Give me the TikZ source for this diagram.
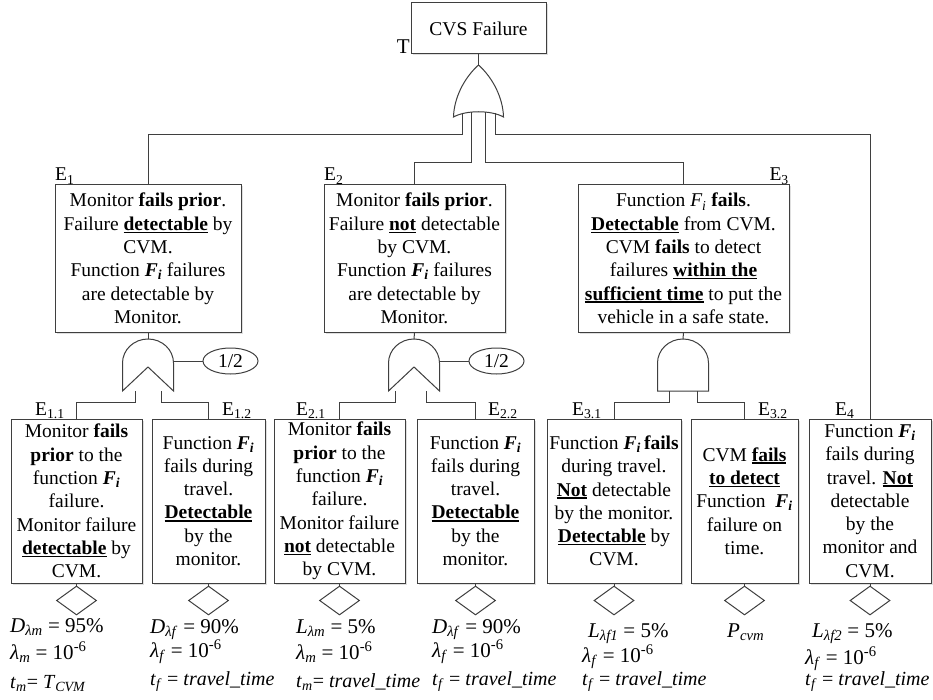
\documentclass[tikz,border=0pt]{standalone}
\usepackage{fontspec}
\setmainfont{Liberation Serif}
\usetikzlibrary{shapes.geometric,shadows}

% bold underlined emphasis
\newsavebox\ulbox
\newcommand\ub[1]{\sbox\ulbox{\textbf{#1}}%
  \rlap{\rule[-2.6pt]{\wd\ulbox}{1.3pt}}\usebox\ulbox}
% function symbols
\newcommand\Fbi{\textbf{\textit{F\textsubscript{i}}}}
\newcommand\Fit{\textit{F\textsubscript{i}}}
% italic variable with italic subscript
\newcommand\vsub[2]{\textit{#1}\textsubscript{\textit{#2}}}

\definecolor{linec}{HTML}{3F3F3F}

\begin{document}
\begin{tikzpicture}[x=1pt,y=-1pt,
  every node/.style={inner sep=0pt},
  txt/.style={font=\fontsize{19.5}{23.3}\selectfont},
  box/.style={txt,draw=linec,line width=1pt,fill=white,align=center,
    drop shadow={shadow xshift=1.5pt,shadow yshift=-1.5pt,opacity=0.25}},
  lowbox/.style={box,minimum height=164pt},
  ebox/.style={box,minimum height=147pt},
  conn/.style={draw=linec,line width=1pt},
  gate/.style={draw=linec,line width=1pt,fill=white},
  basic/.style={diamond,draw=linec,line width=1pt,fill=white,
    minimum width=40pt,minimum height=29pt},
  vote/.style={ellipse,draw=linec,line width=1pt,fill=white,txt,
    minimum width=55pt,minimum height=26pt},
  lab/.style={txt,anchor=base west},
  labr/.style={txt,anchor=base east},
  par/.style={font=\fontsize{21}{24}\selectfont,anchor=base west},
  parsm/.style={font=\fontsize{20}{24}\selectfont,anchor=base west}
]
\useasboundingbox (0,0) rectangle (933,700);

% ---------- top event ----------
\node[box,minimum width=135pt,minimum height=51pt] (T) at (478.5,28.5) {CVS Failure};
\node[labr,font=\fontsize{21}{24}\selectfont] (Tl) at (410,54) {T};

% ---------- OR gate under the top event ----------
\coordinate (orapex) at (478.5,65);
\draw[gate] (orapex) .. controls (464,78) and (454,98) .. (453.5,117)
  .. controls (466,110) and (491,110) .. (503.5,117)
  .. controls (503,98) and (493,78) .. (orapex);
\draw[conn] (T.south) -- (orapex);
\coordinate (o1) at (462,113);
\coordinate (o2) at (471,112);
\coordinate (o3) at (485.5,112);
\coordinate (o4) at (495,113);

% ---------- intermediate events ----------
\node[ebox,minimum width=186pt] (E1) at (148,258.5) {%
  Monitor \textbf{fails prior}.\\
  Failure \ub{detectable} by\\
  CVM.\\
  Function \Fbi{} failures\\
  are detectable by\\
  Monitor.};
\node[ebox,minimum width=181pt] (E2) at (414.5,258.5) {%
  Monitor \textbf{fails prior}.\\
  Failure \ub{not} detectable\\
  by CVM.\\
  Function \Fbi{} failures\\
  are detectable by\\
  Monitor.};
\node[ebox,minimum width=211pt] (E3) at (683.5,258.5) {%
  Function \Fit{} \textbf{fails}.\\
  \ub{Detectable} from CVM.\\
  CVM \textbf{fails} to detect\\
  failures \ub{within the}\\
  \ub{sufficient time} to put the\\
  vehicle in a safe state.};

\node[lab] (E1l) at (55,181) {E\textsubscript{1}};
\node[lab] (E2l) at (324,181) {E\textsubscript{2}};
\node[labr] (E3l) at (789,181) {E\textsubscript{3}};

\draw[conn] (o1) -- ++(0,22) -| (E1.north);
\draw[conn] (o2) -- ++(0,51) -| (E2.north);
\draw[conn] (o3) -- ++(0,51) -| (E3.north);

% ---------- basic events ----------
\node[lowbox,minimum width=131pt] (E11) at (76.5,501) {%
  Monitor \textbf{fails}\\
  \textbf{prior} to the\\
  function \Fbi\\
  failure.\\
  Monitor failure\\
  \ub{detectable} by\\
  CVM.};
\node[lowbox,minimum width=113pt] (E12) at (208.5,501) {%
  Function \Fbi\\
  fails during\\
  travel.\\
  \ub{Detectable}\\
  by the\\
  monitor.};
\node[lowbox,minimum width=131pt] (E21) at (339.5,501) {%
  Monitor \textbf{fails}\\
  \textbf{prior} to the\\
  function \Fbi\\
  failure.\\
  Monitor failure\\
  \ub{not} detectable\\
  by CVM.};
\node[lowbox,minimum width=117pt] (E22) at (475.5,501) {%
  Function \Fbi\\
  fails during\\
  travel.\\
  \ub{Detectable}\\
  by the\\
  monitor.};
\node[lowbox,minimum width=134pt] (E31) at (614,501) {%
  Function \Fbi\,\textbf{fails}\\
  during travel.\\
  \ub{Not} detectable\\
  by the monitor.\\
  \ub{Detectable} by\\
  CVM.};
\node[lowbox,minimum width=107pt] (E32) at (744.5,501) {%
  CVM \ub{fails}\\
  \ub{to detect}\\
  Function~~\Fbi\\
  failure on\\
  time.};
\node[lowbox,minimum width=122pt] (E4) at (870,501) {%
  Function \Fbi\\
  fails during\\
  travel. \ub{Not}\\
  detectable\\
  by the\\
  monitor and\\
  CVM.};

\draw[conn] (o4) -- ++(0,22) -| (E4.north);

\node[lab] (E11l) at (35,415) {E\textsubscript{1.1}};
\node[lab] (E12l) at (222,415) {E\textsubscript{1.2}};
\node[lab] (E21l) at (296,415) {E\textsubscript{2.1}};
\node[lab] (E22l) at (488,415) {E\textsubscript{2.2}};
\node[lab] (E31l) at (572,415) {E\textsubscript{3.1}};
\node[lab] (E32l) at (758,415) {E\textsubscript{3.2}};
\node[lab] (E4l) at (835,415) {E\textsubscript{4}};

% ---------- priority AND gates ----------
\draw[gate] (122.5,391) -- (122.5,363)
  arc[start angle=180,end angle=360,x radius=25.5,y radius=24]
  -- (173.5,391) -- (148,367) -- cycle;
\draw[gate] (388.5,391) -- (388.5,363)
  arc[start angle=180,end angle=360,x radius=25.5,y radius=24]
  -- (439.5,391) -- (414,367) -- cycle;
% ---------- AND gate ----------
\draw[gate] (657.5,391) -- (657.5,363)
  arc[start angle=180,end angle=360,x radius=25.5,y radius=24]
  -- (708.5,391) -- cycle;

\coordinate (g1t) at (148,339);
\coordinate (g2t) at (414,339);
\coordinate (g3t) at (683,339);
\draw[conn] (E1.south) -- (g1t);
\draw[conn] (E2.south) -- (g2t);
\draw[conn] (E3.south) -- (g3t);

% gate outputs to the basic events
\coordinate (g1a) at (135,391);  \coordinate (g1b) at (161,391);
\coordinate (g2a) at (395,391);  \coordinate (g2b) at (426,391);
\coordinate (g3a) at (669,391);  \coordinate (g3b) at (697,391);
\draw[conn] (g1a) -- ++(0,11) -| (E11.north);
\draw[conn] (g1b) -- ++(0,11) -| (E12.north);
\draw[conn] (g2a) -- ++(0,11) -| (E21.north);
\draw[conn] (g2b) -- ++(0,11) -| (E22.north);
\draw[conn] (g3a) -- ++(0,11) -| (E31.north);
\draw[conn] (g3b) -- ++(0,11) -| (E32.north);

% voting conditions
\node[vote] (k1) at (230.5,361) {1/2};
\node[vote] (k2) at (496.5,361) {1/2};
\coordinate (g1r) at (173.5,361);
\coordinate (g2r) at (439.5,361);
\draw[conn] (g1r) -- (k1.west);
\draw[conn] (g2r) -- (k2.west);

% ---------- undeveloped events ----------
\foreach \b in {E11,E12,E21,E22,E31,E32,E4}{
  \node[basic,anchor=north] (d\b) at ([yshift=-2pt]\b.south) {};
  \draw[conn] (\b.south) -- (d\b.north);
}

% ---------- parameters ----------
\node[par] (p11a) at (10,632) {\vsub{D}{λm} = 95\%};
\node[par] (p11b) at (10,659) {\vsub{λ}{m} = 10\textsuperscript{-6}};
\node[parsm] (p11c) at (10,688) {\vsub{t}{m}= \vsub{T}{CVM}};

\node[par] (p12a) at (150,633) {\vsub{D}{λf} = 90\%};
\node[par] (p12b) at (150,657) {\vsub{λ}{f} = 10\textsuperscript{-6}};
\node[parsm] (p12c) at (150,685) {\vsub{t}{f} = \textit{travel\_time}};

\node[par] (p21a) at (296,633) {\vsub{L}{λm} = 5\%};
\node[par] (p21b) at (296,659) {\vsub{λ}{m} = 10\textsuperscript{-6}};
\node[parsm] (p21c) at (296,687) {\vsub{t}{m}= \textit{travel\_time}};

\node[par] (p22a) at (432,633) {\vsub{D}{λf} = 90\%};
\node[par] (p22b) at (432,657) {\vsub{λ}{f} = 10\textsuperscript{-6}};
\node[parsm] (p22c) at (432,685) {\vsub{t}{f} = \textit{travel\_time}};

\node[par] (p31a) at (588,637) {\vsub{L}{λf1} = 5\%};
\node[par] (p31b) at (582,662) {\vsub{λ}{f} = 10\textsuperscript{-6}};
\node[parsm] (p31c) at (582,685) {\vsub{t}{f} = \textit{travel\_time}};

\node[par] (p32a) at (727,637) {\vsub{P}{cvm}};

\node[par] (p4a) at (812,637) {\vsub{L}{λf2} = 5\%};
\node[par] (p4b) at (805,664) {\vsub{λ}{f} = 10\textsuperscript{-6}};
\node[parsm] (p4c) at (805,685) {\vsub{t}{f} = \textit{travel\_time}};
\end{tikzpicture}
\end{document}
